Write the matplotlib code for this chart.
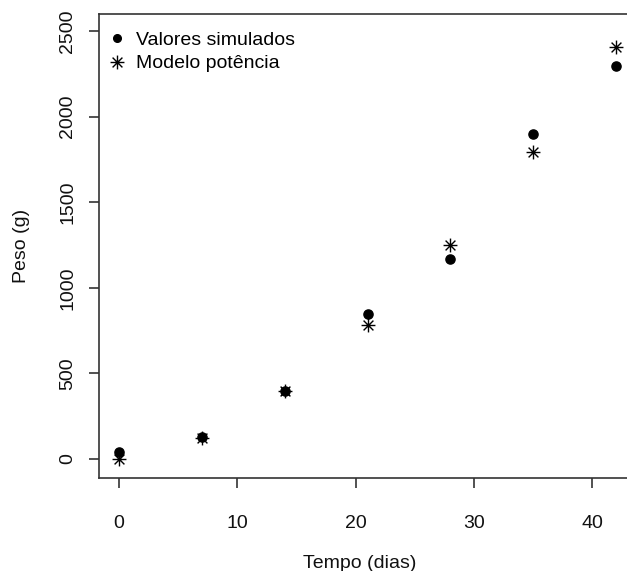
import matplotlib
matplotlib.use("Agg")
import matplotlib.pyplot as plt
from matplotlib.path import Path
import numpy as np

plt.rcParams['font.family'] = ['Liberation Sans', 'DejaVu Sans']

tempo = [0, 7, 14, 21, 28, 35, 42]
valores_simulados = [40, 130, 400, 850, 1170, 1900, 2298]
modelo_potencia = [0, 125, 400, 784, 1251, 1795, 2409]
xticks = [0, 10, 20, 30, 40]
yticks = [0, 500, 1000, 1500, 2000, 2500]

# asterisk marker (R pch=8): '+' and 'x' combined
d = np.sqrt(0.5)
verts = [(-1, 0), (1, 0), (0, -1), (0, 1), (-d, -d), (d, d), (-d, d), (d, -d)]
codes = [Path.MOVETO, Path.LINETO] * 4
asterisk = Path(verts, codes)

W, H = 627, 571
fig = plt.figure(figsize=(W / 100, H / 100), dpi=100)
left, right, top, bottom = 99, 636, 14, 478
ax = fig.add_axes([left / W, 1 - bottom / H, (right - left) / W, (bottom - top) / H])

ax.plot(tempo, valores_simulados, linestyle='none', marker='o', markersize=6.6,
        color='black', label='Valores simulados', clip_on=False)
ax.plot(tempo, modelo_potencia, linestyle='none', marker=asterisk, markersize=10,
        markeredgewidth=1.0, color='black', fillstyle='none', label='Modelo potência',
        clip_on=False)

ax.set_xlim(-1.68, 43.68)
ax.set_ylim(-111, 2600)
ax.set_xticks(xticks)
ax.set_yticks(yticks)

for s in ax.spines.values():
    s.set_color('#333333')
    s.set_linewidth(1.2)
ax.spines['right'].set_visible(False)

ax.tick_params(axis='both', length=7.5, width=1.2, color='#333333',
               labelsize=14, labelcolor='#111111')
ax.tick_params(axis='x', pad=19)
ax.tick_params(axis='y', pad=9, labelrotation=90)
for lab in ax.get_yticklabels():
    lab.set_va('center')

fig.text(360 / W, 1 - 563 / H, 'Tempo (dias)', ha='center', va='center',
         fontsize=14, color='#111111')
fig.text(21 / W, 1 - 246 / H, 'Peso (g)', ha='center', va='center',
         rotation=90, fontsize=14, color='#111111')

leg = ax.legend(loc='upper left',
                bbox_to_anchor=((108 - left) / (right - left), 1 - (31 - top) / (bottom - top)),
                frameon=False, fontsize=14, handlelength=0.9, handletextpad=0.55,
                labelspacing=0.32, borderpad=0, borderaxespad=0)
leg.legend_handles[0].set_markersize(5.5)

fig.savefig('out.png', dpi=100)
